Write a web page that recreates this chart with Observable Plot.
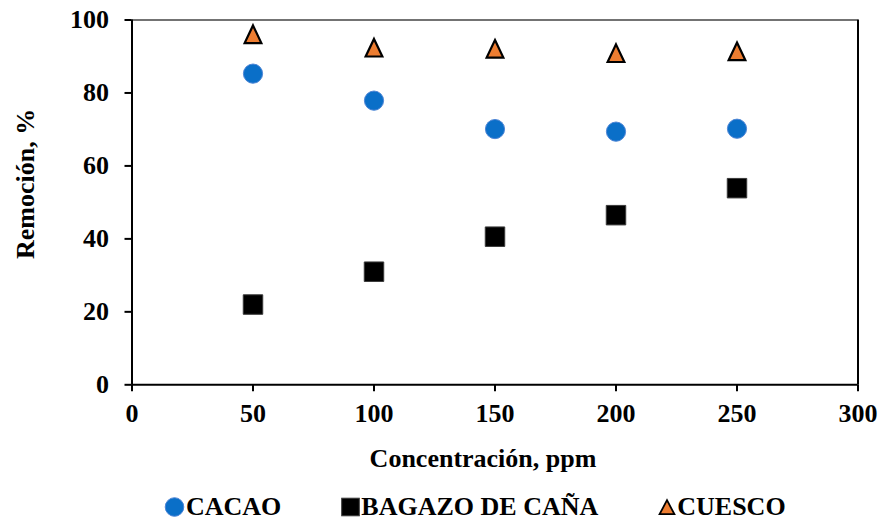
<!DOCTYPE html>
<html>
<head>
<meta charset="utf-8">
<script src="https://cdn.jsdelivr.net/npm/d3@7"></script>
<script src="https://cdn.jsdelivr.net/npm/@observablehq/plot@0.6"></script>
<style>
  html, body { margin: 0; padding: 0; background: #fff; }
  #chart { width: 880px; }
  .legend {
    display: flex; align-items: center; height: 40px; box-sizing: border-box;
    padding-left: 164px; padding-top: 14px;
    font-family: "Liberation Serif", "Times New Roman", serif; font-weight: bold; font-size: 26px;
    color: #000;
  }
  .legend .item { display: flex; align-items: center; line-height: 28px; }
  .legend .item + .item { margin-left: 60px; }
  .legend svg { display: block; margin-right: 1px; }
</style>
</head>
<body>
<div id="chart"></div>
<script>
// Removal (%) versus initial concentration (ppm) for three adsorbents
const concentracion = [50, 100, 150, 200, 250];
const cacao  = [85.3, 77.9, 70.1, 69.4, 70.2];
const bagazo = [22.0, 31.0, 40.6, 46.5, 53.9];
const cuesco = [96.1, 92.4, 92.1, 90.9, 91.4];

const series = [
  {name: "CACAO", values: cacao},
  {name: "BAGAZO DE CAÑA", values: bagazo},
  {name: "CUESCO", values: cuesco}
];
const xTicks = [0, 50, 100, 150, 200, 250, 300];
const yTicks = [0, 20, 40, 60, 80, 100];

const rows = series.flatMap(s => s.values.map((v, i) => ({serie: s.name, x: concentracion[i], y: v})));
const pick = name => rows.filter(d => d.serie === name);

// triangle centred on its bounding box
const triangle = {
  draw(ctx, size) {
    const r = Math.sqrt(size / Math.PI);
    const w = r * 0.95;
    ctx.moveTo(0, -r);
    ctx.lineTo(w, r);
    ctx.lineTo(-w, r);
    ctx.closePath();
  }
};

const font = "'Liberation Serif', 'Times New Roman', serif";

const chart = Plot.plot({
  width: 880,
  height: 480,
  marginLeft: 131.5,
  marginRight: 22.5,
  marginTop: 19.5,
  marginBottom: 95.7,
  style: {fontFamily: font, fontWeight: "bold", fontSize: "26px", color: "#000", background: "#fff"},
  x: {domain: [0, 300]},
  y: {domain: [0, 100]},
  marks: [
    Plot.ruleY([100], {stroke: "#444", strokeWidth: 1.5}),
    Plot.ruleX([300], {stroke: "#000", strokeWidth: 2}),
    Plot.axisX({ticks: xTicks, tickSize: 7, tickPadding: 12, strokeWidth: 2, label: null, fontSize: 26}),
    Plot.axisY({ticks: yTicks, tickSize: 7, tickPadding: 16, strokeWidth: 2, label: null, fontSize: 26}),
    Plot.ruleY([0], {stroke: "#000", strokeWidth: 2}),
    Plot.ruleX([0], {stroke: "#000", strokeWidth: 2}),
    Plot.text(["Concentración, ppm"], {frameAnchor: "bottom", textAnchor: "middle", lineAnchor: "bottom", dy: 82.4, dx: -12, fontSize: 26, fontWeight: "bold"}),
    Plot.text(["Remoción, %"], {frameAnchor: "left", textAnchor: "middle", lineAnchor: "bottom", rotate: -90, dx: -98.4, dy: -18.5, fontSize: 26, fontWeight: "bold"}),
    Plot.dot(pick("BAGAZO DE CAÑA"), {x: "x", y: "y", symbol: "square", r: 11, fill: "#000", stroke: "#3a3a3a", strokeWidth: 1}),
    Plot.dot(pick("CACAO"), {x: "x", y: "y", symbol: "circle", r: 9.6, fill: "#0a6fc8", stroke: "#4f86d6", strokeWidth: 1}),
    Plot.dot(pick("CUESCO"), {x: "x", y: "y", symbol: triangle, r: 8.8, fill: "#ed7d31", stroke: "#000", strokeWidth: 2.2, strokeLinejoin: "miter"})
  ]
});
document.getElementById("chart").append(chart);

// legend below the plot
const symbols = {
  "CACAO": `<svg width="21" height="20" viewBox="-10.5 -10 21 20"><circle r="9.3" fill="#0a6fc8" stroke="#4f86d6" stroke-width="1"/></svg>`,
  "BAGAZO DE CAÑA": `<svg width="19" height="20" viewBox="-9.5 -10 19 20"><rect x="-8.8" y="-8.8" width="17.6" height="17.6" fill="#000" stroke="#3a3a3a" stroke-width="1"/></svg>`,
  "CUESCO": `<svg width="18" height="20" viewBox="-9 -10 18 20"><path d="M0,-6.8L7.4,7.2L-7.4,7.2Z" fill="#ed7d31" stroke="#000" stroke-width="1.8"/></svg>`
};
const legend = d3.select("body").append("div").attr("class", "legend");
series.forEach(s => {
  const item = legend.append("div").attr("class", "item");
  item.append("span").html(symbols[s.name]);
  item.append("span").text(s.name);
});
</script>
</body>
</html>
